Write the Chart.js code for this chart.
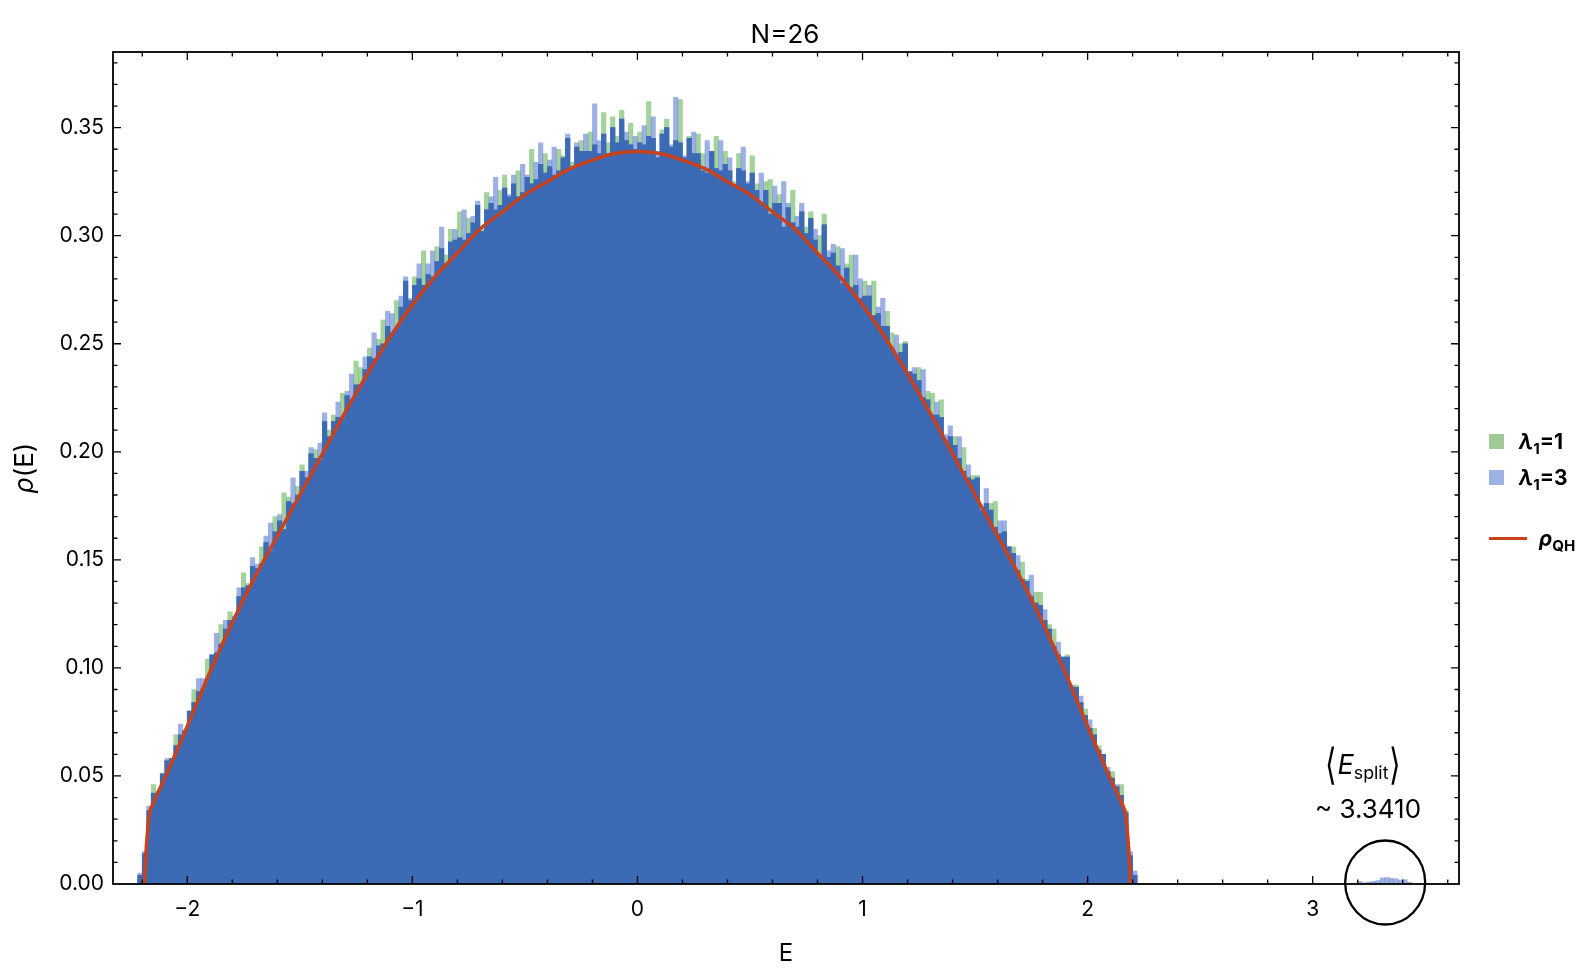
<!DOCTYPE html>
<html lang="en">
<head>
<meta charset="utf-8">
<title>N=26</title>
<script src="https://cdn.jsdelivr.net/npm/chart.js@4/dist/chart.umd.min.js"></script>
<style>
  html, body { margin: 0; padding: 0; background: #fff; }
  #wrap { position: relative; width: 1590px; height: 970px; font-family: Inter, "Liberation Sans", sans-serif; color: #000; }
  #wrap canvas { position: absolute; left: 0; top: 0; }
  .txt { position: absolute; white-space: nowrap; line-height: 1; }
  .txt sub { font-size: 0.66em; vertical-align: -0.3em; line-height: 0; }
  .leg { font-size: 21px; font-weight: bold; }
  .leg sub { font-size: 0.72em; }
  .sw { position: absolute; width: 15px; height: 15px; }
  .ang { font-family: "DejaVu Sans", sans-serif; font-weight: 200; font-size: 1.1em; display: inline-block; transform: scaleY(1.45); }
</style>
</head>
<body>
<div id="wrap">
  <canvas id="rhoChart" width="1590" height="970"></canvas>

  <div class="txt" style="left:685px; top:21px; width:200px; text-align:center; font-size:26px;">N=26</div>
  <div class="txt" style="left:686px; top:941px; width:200px; text-align:center; font-size:24px;">E</div>
  <div class="txt" style="left:-26px; top:455px; width:100px; text-align:center; font-size:26px; transform:rotate(-90deg);"><i>ρ</i>(E)</div>

  <!-- legend -->
  <div class="sw" style="left:1489px; top:434px; background:rgb(160,202,152);"></div>
  <div class="txt leg" style="left:1519px; top:431px;"><i>λ</i><sub>1</sub>=1</div>
  <div class="sw" style="left:1489px; top:470px; background:rgb(157,178,226);"></div>
  <div class="txt leg" style="left:1519px; top:467px;"><i>λ</i><sub>1</sub>=3</div>
  <div style="position:absolute; left:1489px; top:537px; width:38px; height:3px; background:rgb(200,66,30);"></div>
  <div class="txt leg" style="left:1539px; top:528px;"><i>ρ</i><sub>QH</sub></div>

  <!-- annotation of the split-off states -->
  <div class="txt" style="left:1303px; top:749px; width:120px; text-align:center; font-size:27px;"><span class="ang">⟨</span><i>E</i><sub>split</sub><span class="ang">⟩</span></div>
  <div class="txt" style="left:1300px; top:796px; width:136px; text-align:center; font-size:26px;">~ 3.3410</div>
</div>

<script>
// histogram bins: centre of first bin and bin width
const binStart = -2.21;
const binWidth = 0.02;

// lambda_1 = 1, E < 0 (from -2.21 to -0.01)
const greenLeft = [
  .004,.014,.034,.046,.043,.051,.057,.058,.069,.069,
  .071,.080,.090,.089,.090,.104,.106,.107,.120,.118,
  .126,.123,.133,.144,.139,.147,.146,.156,.158,.154,
  .170,.168,.181,.179,.176,.184,.194,.188,.199,.201,
  .196,.214,.210,.217,.216,.227,.226,.224,.242,.239,
  .238,.248,.243,.252,.261,.258,.255,.270,.267,.279,
  .270,.281,.280,.293,.282,.281,.295,.294,.291,.303,
  .298,.311,.298,.308,.306,.314,.303,.320,.315,.312,
  .321,.328,.318,.324,.330,.320,.327,.340,.326,.333,
  .338,.332,.328,.340,.337,.345,.334,.341,.344,.339,
  .348,.342,.338,.357,.343,.355,.346,.358,.344,.352,
  .340
];
// lambda_1 = 1, E > 0 (from 0.01 to 2.21)
const greenRight = [
  .348,.342,.362,.345,.336,.349,.354,.341,.344,.363,
  .336,.346,.338,.347,.338,.329,.339,.346,.330,.339,
  .330,.325,.338,.330,.324,.337,.324,.315,.325,.326,
  .315,.319,.304,.313,.321,.304,.311,.304,.311,.298,
  .300,.310,.290,.292,.295,.278,.287,.291,.277,.271,
  .279,.272,.279,.264,.258,.265,.255,.244,.250,.251,
  .237,.236,.239,.225,.228,.227,.217,.224,.205,.207,
  .207,.197,.202,.188,.189,.189,.173,.176,.176,.177,
  .162,.163,.156,.156,.145,.149,.141,.133,.135,.135,
  .122,.120,.118,.106,.105,.106,.091,.092,.084,.081,
  .072,.072,.064,.060,.052,.052,.045,.046,.034,.013,
  .004
];
// lambda_1 = 3, E < 0
const blueLeft = [
  .005,.015,.036,.042,.042,.051,.058,.058,.064,.074,
  .071,.080,.084,.095,.095,.095,.106,.116,.111,.122,
  .122,.124,.137,.137,.138,.151,.148,.148,.161,.167,
  .163,.171,.164,.177,.188,.180,.191,.191,.202,.197,
  .204,.218,.207,.214,.223,.215,.228,.236,.231,.231,
  .244,.244,.255,.249,.250,.265,.264,.257,.272,.281,
  .271,.277,.287,.277,.287,.293,.288,.304,.287,.297,
  .303,.299,.312,.301,.309,.316,.302,.312,.318,.327,
  .314,.322,.319,.328,.318,.333,.328,.324,.334,.343,
  .329,.335,.341,.330,.336,.347,.331,.343,.339,.347,
  .339,.361,.344,.347,.338,.350,.343,.354,.348,.342,
  .346
];
// lambda_1 = 3, E > 0
const blueRight = [
  .343,.351,.346,.355,.339,.347,.350,.342,.364,.343,
  .337,.345,.348,.338,.330,.344,.339,.331,.344,.333,
  .336,.323,.331,.341,.325,.329,.321,.329,.321,.310,
  .323,.315,.325,.315,.306,.309,.315,.301,.308,.303,
  .290,.305,.293,.296,.286,.294,.285,.276,.291,.280,
  .272,.277,.263,.267,.271,.258,.248,.254,.246,.250,
  .237,.239,.233,.238,.224,.217,.223,.216,.208,.212,
  .203,.207,.191,.194,.187,.188,.174,.183,.173,.165,
  .168,.168,.156,.153,.152,.141,.140,.143,.130,.129,
  .127,.118,.110,.112,.105,.105,.092,.091,.087,.078,
  .076,.069,.062,.060,.054,.049,.046,.041,.033,.015,
  .006
];
// split-off states of lambda_1 = 3 near E ~ 3.34
const splitE = [3.21, 3.23, 3.25, 3.27, 3.29, 3.31, 3.33, 3.35, 3.37, 3.39, 3.41, 3.43];
const splitBlue = [.0012, .0005, .0009, .0012, .0016, .0028, .0030, .0026, .0024, .0018, .0020, .0008];

// rho_QH curve
const curveE = [
  -2.190, -2.186, -2.182, -2.176, -2.169, -2.15, -2.1, -2.0, -1.9, -1.8, -1.7, -1.6, -1.5, -1.4,
  -1.3, -1.2, -1.1, -1.0, -0.9, -0.8, -0.7, -0.6, -0.5, -0.4, -0.3, -0.2, -0.1, 0,
  0.1, 0.2, 0.3, 0.4, 0.5, 0.6, 0.7, 0.8, 0.9, 1.0, 1.1, 1.2, 1.3,
  1.4, 1.5, 1.6, 1.7, 1.8, 1.9, 2.0, 2.1, 2.15, 2.169, 2.176, 2.182, 2.186, 2.190
];
const curveRho = [
  0, 0.010, 0.017, 0.025, 0.032, 0.0376, 0.049, 0.073, 0.098, 0.121, 0.142, 0.161, 0.180, 0.199,
  0.218, 0.236, 0.253, 0.268, 0.281, 0.292, 0.303, 0.311, 0.319, 0.325, 0.331, 0.335, 0.338, 0.339,
  0.338, 0.335, 0.331, 0.325, 0.319, 0.311, 0.303, 0.292, 0.281, 0.268, 0.253, 0.236, 0.218,
  0.199, 0.180, 0.161, 0.142, 0.121, 0.098, 0.073, 0.049, 0.0376, 0.032, 0.025, 0.017, 0.010, 0
];

const xTicks = [-2, -1, 0, 1, 2, 3];
const yTicks = [0, 0.05, 0.10, 0.15, 0.20, 0.25, 0.30, 0.35];

// build datasets
var greenMain = greenLeft.concat(greenRight);
var blueMain = blueLeft.concat(blueRight);
var greenPts = greenMain.map(function (v, k) { return {x: +(binStart + k * binWidth).toFixed(2), y: v}; });
var bluePts = blueMain.map(function (v, k) { return {x: +(binStart + k * binWidth).toFixed(2), y: v}; })
  .concat(splitE.map(function (e, k) { return {x: e, y: splitBlue[k]}; }));
// where both histograms overlap the bars look dark blue
var overlapPts = greenMain.map(function (v, k) { return {x: greenPts[k].x, y: Math.min(v, blueMain[k])}; });
var curvePts = curveE.map(function (e, k) { return {x: e, y: curveRho[k]}; });

var color = {
  green: 'rgba(106,182,96,0.62)',
  blue: 'rgba(96,128,212,0.62)',
  dark: 'rgb(61,106,180)',
  red: 'rgb(200,66,30)'
};

const frameAndTicks = {
  id: 'frameAndTicks',
  afterDraw(chart) {
    const ctx = chart.ctx, a = chart.chartArea, xs = chart.scales.x, ys = chart.scales.y;
    ctx.save();
    ctx.strokeStyle = '#000';
    ctx.lineWidth = 1.3;
    ctx.beginPath();
    for (let k = -12; k <= 19; k++) {
      const px = xs.getPixelForValue(k / 5);
      if (px <= a.left + 1 || px >= a.right - 1) continue;
      const len = (k % 5 === 0) ? 8 : 4.5;
      ctx.moveTo(px, a.bottom); ctx.lineTo(px, a.bottom - len);
      ctx.moveTo(px, a.top); ctx.lineTo(px, a.top + len);
    }
    for (let k = 1; k <= 40; k++) {
      const py = ys.getPixelForValue(k / 100);
      if (py <= a.top + 1) continue;
      const len = (k % 5 === 0) ? 8 : 4.5;
      ctx.moveTo(a.left, py); ctx.lineTo(a.left + len, py);
      ctx.moveTo(a.right, py); ctx.lineTo(a.right - len, py);
    }
    ctx.stroke();
    ctx.lineWidth = 1.8;
    ctx.strokeRect(a.left, a.top, a.right - a.left, a.bottom - a.top);
    // circle round the split-off states
    ctx.lineWidth = 2.3;
    ctx.beginPath();
    ctx.ellipse(xs.getPixelForValue(3.322), ys.getPixelForValue(0) - 1.5, 40, 42, 0, 0, 2 * Math.PI);
    ctx.stroke();
    ctx.restore();
  }
};

Chart.defaults.font.family = 'Inter, "Liberation Sans", sans-serif';
Chart.defaults.color = '#000';

var ctx = document.getElementById('rhoChart');
window.rhoChart = new Chart(ctx, {
  type: 'bar',
  data: {
    datasets: [
      {
        type: 'line',
        label: 'rho_QH',
        data: curvePts,
        borderColor: color.red,
        borderWidth: 3.5,
        pointRadius: 0,
        cubicInterpolationMode: 'monotone',
        fill: false,
        order: 0
      },
      {
        label: 'overlap',
        data: overlapPts,
        backgroundColor: color.dark,
        grouped: false,
        order: 1
      },
      {
        label: 'λ1=3',
        data: bluePts,
        backgroundColor: color.blue,
        grouped: false,
        order: 2
      },
      {
        label: 'λ1=1',
        data: greenPts,
        backgroundColor: color.green,
        grouped: false,
        order: 3
      }
    ]
  },
  options: {
    responsive: false,
    animation: false,
    barPercentage: 1,
    categoryPercentage: 1,
    layout: { padding: { top: 52, right: 131, left: 0, bottom: 0 } },
    plugins: {
      legend: { display: false },
      title: { display: false },
      tooltip: { enabled: false }
    },
    scales: {
      x: {
        type: 'linear',
        min: -2.33,
        max: 3.65,
        offset: false,
        grid: { display: false, drawTicks: false },
        border: { display: false },
        afterBuildTicks: function (scale) { scale.ticks = xTicks.map(function (v) { return {value: v}; }); },
        afterFit: function (scale) { scale.height = 86; },
        ticks: {
          padding: 13,
          maxRotation: 0,
          autoSkip: false,
          font: { size: 21 },
          callback: function (v) { return v < 0 ? '\u2212' + Math.abs(v) : String(v); }
        }
      },
      y: {
        min: 0,
        max: 0.385,
        grid: { display: false, drawTicks: false },
        border: { display: false },
        afterBuildTicks: function (scale) { scale.ticks = yTicks.map(function (v) { return {value: v}; }); },
        afterFit: function (scale) { scale.width = 113; },
        ticks: {
          padding: 9,
          font: { size: 21 },
          callback: function (v) { return v.toFixed(2); }
        }
      }
    }
  },
  plugins: [frameAndTicks]
});
</script>
</body>
</html>
